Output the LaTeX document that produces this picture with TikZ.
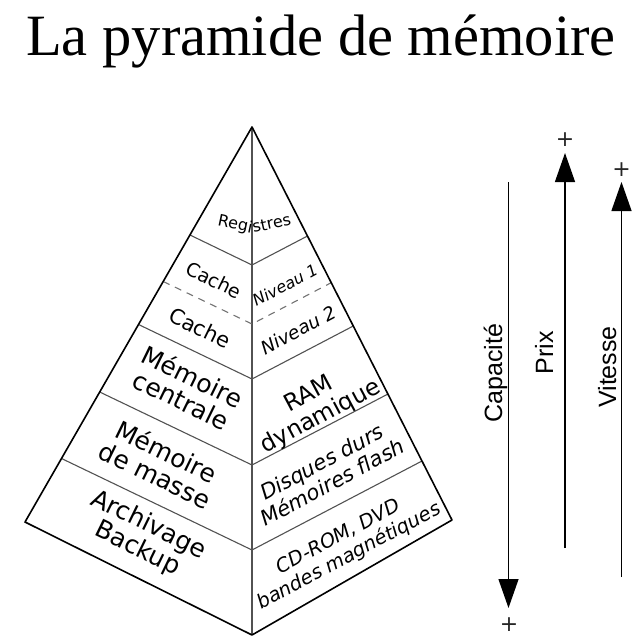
\documentclass[tikz,border=0pt]{standalone}
\usepackage{fontspec}
\setmainfont{Liberation Serif}
\newfontfamily\pyrfont{DejaVu Sans}
\newfontfamily\arialfont{Liberation Sans}
\usetikzlibrary{arrows.meta}
\newcommand\pyrsz[2]{\fontsize{#1}{#2}\selectfont}
\begin{document}
\begin{tikzpicture}[x=1pt,y=-1pt,
  outline/.style={line width=1.6pt, line join=round, draw=black},
  layer/.style={line width=1.1pt, draw=black!68},
  dashline/.style={line width=1.1pt, draw=black!55, dash pattern=on 7pt off 6pt},
  lbl/.style={font=\pyrfont, inner sep=0pt, align=center},
  lefttxt/.style={lbl, rotate=-26},
  righttxt/.style={lbl, rotate=28},
  axis/.style={line width=1.3pt, draw=black},
  axtip/.style={-{Triangle[length=29pt,width=20pt]}},
  axlbl/.style={font=\arialfont\pyrsz{25}{28}, inner sep=0pt, rotate=90, anchor=base},
  plus/.style={font=\pyrfont\pyrsz{22}{24}, text=black!85, inner sep=0pt}
]
\useasboundingbox (0,0) rectangle (643,642);

% title
\node[font=\pyrsz{58.5}{62}, anchor=base, inner sep=0pt] (title) at (321,56) {La pyramide de mémoire};

% pyramid points
\coordinate (A) at (252,127);
\coordinate (L) at (25,522);
\coordinate (B) at (252,635);
\coordinate (R) at (452,520);
\coordinate (l1) at (190,235);   \coordinate (c1) at (252,265); \coordinate (r1) at (307.5,236);
\coordinate (ld) at (163.2,281.5); \coordinate (cd) at (252,324); \coordinate (rd) at (331.6,282.5);
\coordinate (l3) at (138.5,324.5); \coordinate (c3) at (252,379); \coordinate (r3) at (353.3,326);
\coordinate (l4) at (99.7,392);  \coordinate (c4) at (252,465); \coordinate (r4) at (388,394);
\coordinate (l5) at (61.5,458.5); \coordinate (c5) at (252,550); \coordinate (r5) at (422,461);

% inner lines
\draw[layer] (A) -- (B);
\draw[layer] (l1) -- (c1) -- (r1);
\draw[dashline] (ld) -- (cd) -- (rd);
\draw[layer] (l3) -- (c3) -- (r3);
\draw[layer] (l4) -- (c4) -- (r4);
\draw[layer] (l5) -- (c5) -- (r5);
% outline
\draw[outline] (A) -- (L) -- (B) -- (R) -- cycle;

% labels
\node[lbl, font=\pyrfont\pyrsz{16}{18}, anchor=base east, rotate=-12] (regL) at (251.5,233) {Regi};
\node[lbl, font=\pyrfont\pyrsz{16}{18}, anchor=base west, rotate=12] (regR) at (253.5,233) {stres};

\node[lefttxt, font=\pyrfont\pyrsz{19}{21}] (cache1) at (214,280) {Cache};
\node[righttxt, font=\pyrfont\itshape\pyrsz{16}{18}] (niv1) at (285,285) {Niveau 1};
\node[lefttxt, font=\pyrfont\pyrsz{21}{23}] (cache2) at (200,328) {Cache};
\node[righttxt, font=\pyrfont\itshape\pyrsz{18.5}{20}] (niv2) at (298,330) {Niveau 2};

\node[lefttxt, font=\pyrfont\pyrsz{25}{26}] (mcent) at (187,388) {Mémoire\\centrale};
\node[righttxt, font=\pyrfont\pyrsz{23.5}{25}] (ram) at (315,406) {RAM\\dynamique};
\node[lefttxt, font=\pyrfont\pyrsz{25}{26}] (mmasse) at (161,463) {Mémoire\\de masse};
\node[righttxt, font=\pyrfont\itshape\pyrsz{21}{23}] (disq) at (327,472) {Disques durs\\Mémoires flash};
\node[lefttxt, font=\pyrfont\pyrsz{25}{26}] (arch) at (143,537) {Archivage\\Backup};
\node[righttxt, font=\pyrfont\itshape\pyrsz{19.5}{22}] (cdrom) at (344,547) {CD-ROM, DVD\\bandes magnétiques};

% axes
\coordinate (capS) at (508.5,182);  \coordinate (capE) at (508.5,608);
\coordinate (prixS) at (565,548);   \coordinate (prixE) at (565,153);
\coordinate (vitS) at (621.5,577);  \coordinate (vitE) at (621.5,182);
\draw[axis, axtip] (capS) -- (capE);
\draw[axis, axtip] (prixS) -- (prixE);
\draw[axis, axtip] (vitS) -- (vitE);
\node[axlbl] (capL) at (502,373) {Capacité};
\node[axlbl] (prixL) at (553,353) {Prix};
\node[axlbl] (vitL) at (616,367) {Vitesse};
\node[plus] (capP) at (509,625) {+};
\node[plus] (prixP) at (565,140) {+};
\node[plus] (vitP) at (621.5,170) {+};
\end{tikzpicture}
\end{document}
